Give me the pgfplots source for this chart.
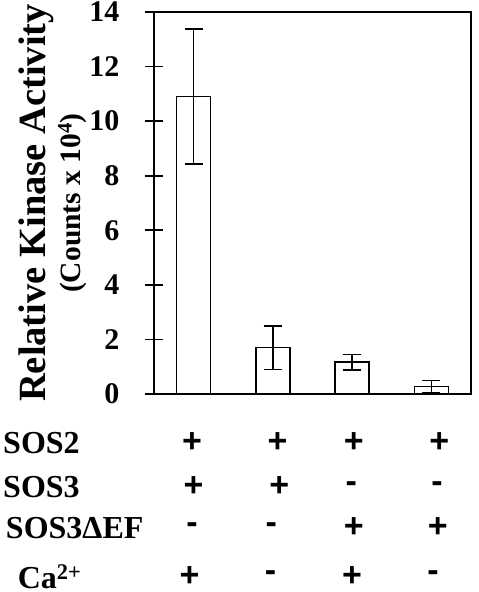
\documentclass[border=0pt]{standalone}
\usepackage{pgfplots}
\pgfplotsset{compat=1.18}
\usepackage{fontspec}
\setmainfont{Liberation Serif}
\newfontfamily\signfont{Liberation Sans}
\begin{document}
\begin{tikzpicture}
\begin{axis}[
  name=ax,
  scale only axis,
  width=317pt, height=382pt,
  xmin=-0.5, xmax=3.5, ymin=0, ymax=14,
  axis line style={line width=1.7pt},
  xtick=\empty,
  ytick={0,2,...,14},
  ytick pos=left,
  tick align=center,
  major tick length=18pt,
  tick style={line width=1.7pt, black},
  yticklabel style={font=\fontsize{30}{32}\selectfont\bfseries, xshift=-22pt},
  /pgf/number format/assume math mode=true,
  clip=false,
  ylabel style={align=center, inner sep=0pt},
  ylabel shift=-1pt,
  ylabel={{\fontsize{38.5}{40}\selectfont\bfseries Relative Kinase Activity}\\[3pt]{\fontsize{29.5}{30}\selectfont\bfseries (Counts x 10\textsuperscript{4})}},
]
\addplot[ybar, bar width=34pt, fill=white, draw=black, line width=1.7pt,
  error bars/.cd, y dir=both, y explicit, error mark=-,
  error bar style={line width=1.7pt},
  error mark options={line width=1.7pt, mark size=9pt, rotate=90}]
coordinates {
 (0,10.9) +- (0,2.48)
 (1,1.7) +- (0,0.8)
 (2,1.17) +- (0,0.28)
 (3,0.27) +- (0,0.23)
};
% table below
\def\lab{\fontsize{32}{34}\selectfont\bfseries}
\def\sg{\fontsize{34}{36}\selectfont\signfont\bfseries}
\node[anchor=west, inner sep=0pt] at (axis cs:-2.405,-1.78) {\lab SOS2};
\node[anchor=west, inner sep=0pt] at (axis cs:-2.405,-3.40) {\lab SOS3};
\node[anchor=west, inner sep=0pt] at (axis cs:-2.37,-4.91) {\lab SOS3ΔEF};
\node[anchor=west, inner sep=0pt] at (axis cs:-2.22,-6.68) {\lab Ca\textsuperscript{2+}};
\begin{scope}[every node/.style={inner sep=0pt}]
\node at (axis cs:-0.02,-1.78) {\sg +};
\node at (axis cs:1.06,-1.78) {\sg +};
\node at (axis cs:2.02,-1.78) {\sg +};
\node at (axis cs:3.1,-1.78) {\sg +};
\node at (axis cs:0,-3.40) {\sg +};
\node at (axis cs:1.08,-3.40) {\sg +};
\node at (axis cs:1.99,-3.40) {\sg -};
\node at (axis cs:3.07,-3.40) {\sg -};
\node at (axis cs:-0.02,-4.91) {\sg -};
\node at (axis cs:0.98,-4.91) {\sg -};
\node at (axis cs:2.02,-4.91) {\sg +};
\node at (axis cs:3.08,-4.91) {\sg +};
\node at (axis cs:-0.05,-6.68) {\sg +};
\node at (axis cs:0.97,-6.68) {\sg -};
\node at (axis cs:2.0,-6.68) {\sg +};
\node at (axis cs:3.02,-6.68) {\sg -};
\end{scope}
\end{axis}
\pgfresetboundingbox
\path[use as bounding box] ([xshift=-154pt,yshift=-198pt]ax.south west) rectangle ([xshift=325pt,yshift=394pt]ax.south west);
\end{tikzpicture}
\end{document}
